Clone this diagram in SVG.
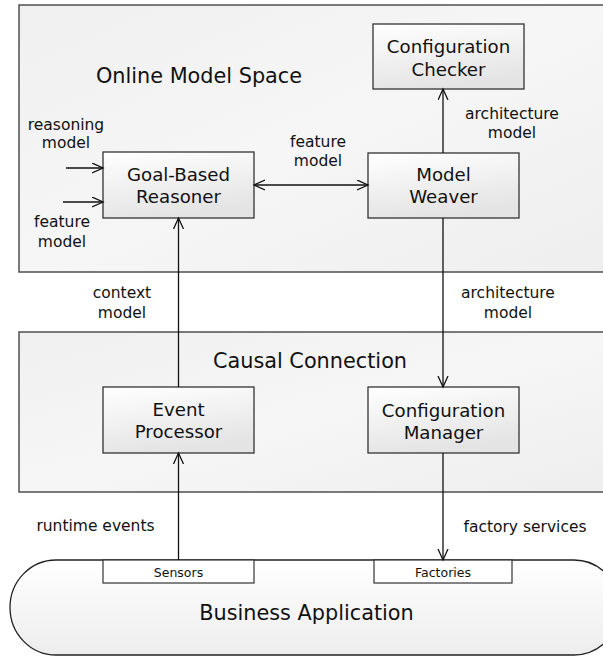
<svg xmlns="http://www.w3.org/2000/svg" width="603" height="656" viewBox="0 0 603 656">
<style>
text{font-family:"DejaVu Sans","Verdana",sans-serif;fill:#111;text-anchor:middle}
.title{font-size:20.8px}
.node{font-size:18.2px}
.lbl{font-size:15.5px}
.small{font-size:12.5px}
.box{fill:url(#gNode);stroke:#333;stroke-width:1.3}
.cont{fill:url(#gCont);stroke:#444;stroke-width:1.4}
.port{fill:#fff;stroke:#333;stroke-width:1.2}
.conn line{stroke:#111;stroke-width:1.3;fill:none}
</style>
<defs>
<linearGradient id="gNode" x1="0" y1="0" x2="0.3" y2="1">
<stop offset="0" stop-color="#ffffff"/>
<stop offset="1" stop-color="#e4e4e4"/>
</linearGradient>
<linearGradient id="gCont" x1="0" y1="0" x2="1" y2="1">
<stop offset="0" stop-color="#f0f0f0"/>
<stop offset="0.5" stop-color="#f6f6f6"/>
<stop offset="1" stop-color="#eeeeee"/>
</linearGradient>
<linearGradient id="gApp" x1="0" y1="0" x2="0" y2="1">
<stop offset="0" stop-color="#ffffff"/>
<stop offset="1" stop-color="#ededed"/>
</linearGradient>
<marker id="arr" markerWidth="14" markerHeight="12" refX="11" refY="5.5" orient="auto-start-reverse" markerUnits="userSpaceOnUse">
<path d="M0,0.5 L11,5.5 L0,10.5" fill="none" stroke="#111" stroke-width="1.3"/>
</marker>
</defs>
<rect width="603" height="656" fill="#fff"/>

<g id="online-model-space">
<rect class="cont" x="19" y="5" width="600" height="267"/>
<text class="title" x="199" y="83">Online Model Space</text>
</g>

<g id="causal-connection">
<rect class="cont" x="19" y="332" width="600" height="160"/>
<text class="title" x="310" y="368">Causal Connection</text>
</g>

<g id="business-application">
<rect x="10" y="560" width="610" height="95" rx="46" ry="47.5" fill="url(#gApp)" stroke="#222" stroke-width="1.3"/>
<text class="title" x="306.5" y="620">Business Application</text>
</g>

<g id="sensors">
<rect class="port" x="103" y="560" width="151" height="23"/>
<text class="small" x="178.5" y="577">Sensors</text>
</g>

<g id="factories">
<rect class="port" x="374" y="560" width="138" height="23"/>
<text class="small" x="443" y="577">Factories</text>
</g>

<g id="configuration-checker">
<rect class="box" x="373" y="24" width="151" height="65"/>
<text class="node" x="448.5" y="53">Configuration</text>
<text class="node" x="448.5" y="76">Checker</text>
</g>

<g id="goal-based-reasoner">
<rect class="box" x="103" y="152" width="151" height="66"/>
<text class="node" x="178.5" y="181">Goal-Based</text>
<text class="node" x="178.5" y="203">Reasoner</text>
</g>

<g id="model-weaver">
<rect class="box" x="368" y="153" width="151" height="65"/>
<text class="node" x="443.5" y="181">Model</text>
<text class="node" x="443.5" y="203">Weaver</text>
</g>

<g id="event-processor">
<rect class="box" x="103" y="387" width="151" height="66"/>
<text class="node" x="178.5" y="416">Event</text>
<text class="node" x="178.5" y="438">Processor</text>
</g>

<g id="configuration-manager">
<rect class="box" x="368" y="387" width="151" height="66"/>
<text class="node" x="443.5" y="417">Configuration</text>
<text class="node" x="443.5" y="439">Manager</text>
</g>

<g id="connectors" class="conn">
<line x1="66" y1="168" x2="103" y2="168" marker-end="url(#arr)"/>
<line x1="63" y1="202" x2="103" y2="202" marker-end="url(#arr)"/>
<line x1="254" y1="185" x2="368" y2="185" marker-start="url(#arr)" marker-end="url(#arr)"/>
<line x1="443" y1="153" x2="443" y2="89" marker-end="url(#arr)"/>
<line x1="178.5" y1="387" x2="178.5" y2="218" marker-end="url(#arr)"/>
<line x1="443" y1="218" x2="443" y2="387" marker-end="url(#arr)"/>
<line x1="178.5" y1="560" x2="178.5" y2="453" marker-end="url(#arr)"/>
<line x1="443" y1="453" x2="443" y2="560" marker-end="url(#arr)"/>
</g>

<g id="labels">
<text class="lbl" x="66" y="130">reasoning</text>
<text class="lbl" x="66" y="148">model</text>
<text class="lbl" x="62" y="227">feature</text>
<text class="lbl" x="62" y="247">model</text>
<text class="lbl" x="318" y="147">feature</text>
<text class="lbl" x="318" y="166">model</text>
<text class="lbl" x="512" y="119">architecture</text>
<text class="lbl" x="512" y="138">model</text>
<text class="lbl" x="122" y="298">context</text>
<text class="lbl" x="122" y="318">model</text>
<text class="lbl" x="508" y="298">architecture</text>
<text class="lbl" x="508" y="318">model</text>
<text class="lbl" x="95.5" y="531">runtime events</text>
<text class="lbl" x="525" y="532">factory services</text>
</g>
</svg>
